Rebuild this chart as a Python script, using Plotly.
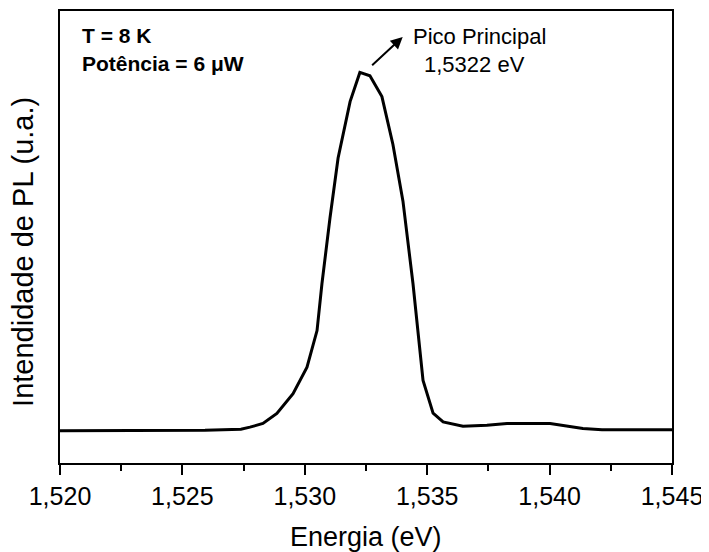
import plotly.graph_objects as go

# Data
energy_ev = [1.52000, 1.52163, 1.52368, 1.52592, 1.52739, 1.52776, 1.52829, 1.52886,
             1.52952, 1.53009, 1.53050, 1.53070, 1.53103, 1.53136, 1.53185, 1.53225,
             1.53266, 1.53315, 1.53360, 1.53401, 1.53442, 1.53483, 1.53524, 1.53565,
             1.53646, 1.53744, 1.53826, 1.54002, 1.54136, 1.54214, 1.54369, 1.54500]
pl_intensity = [71.6, 71.6, 71.6, 72.7, 74.9, 79.3, 87.4, 109.5,
                153.5, 212.1, 293.0, 396.5, 542.5, 674.7, 799.6, 864.1,
                856.8, 810.6, 704.8, 579.3, 396.5, 182.8, 110.1, 91.0,
                81.5, 83.7, 87.4, 87.4, 76.4, 73.8, 73.8, 73.8]
x_ticks = [1.520, 1.525, 1.530, 1.535, 1.540, 1.545]

FONT = "Liberation Sans, Arial, sans-serif"

fig = go.Figure()
fig.add_trace(go.Scatter(x=energy_ev, y=pl_intensity, mode="lines",
                         line=dict(color="black", width=3), showlegend=False,
                         hoverinfo="skip"))

# page body adds an 8px offset, so the figure is sized/margined to compensate
fig.update_layout(
    width=701, height=544,
    margin=dict(l=52, r=37, t=1, b=89, pad=0),
    paper_bgcolor="white", plot_bgcolor="white",
    separators=",.",
    font=dict(family=FONT, color="black"),
    xaxis=dict(range=[1.520, 1.545], tickvals=x_ticks, tickformat=".3f",
               ticks="outside", ticklen=10, tickwidth=2, tickcolor="black",
               showline=True, linewidth=2, linecolor="black", mirror=True,
               showgrid=False, zeroline=False,
               tickfont=dict(size=25, family=FONT, color="black"),
               minor=dict(dtick=0.0025, ticks="outside", ticklen=6,
                          tickwidth=2, tickcolor="black", showgrid=False)),
    yaxis=dict(range=[0, 1000], showticklabels=False, ticks="",
               showline=True, linewidth=2, linecolor="black", mirror=True,
               showgrid=False, zeroline=False),
)

fig.add_annotation(text="Energia (eV)", xref="paper", yref="paper",
                   x=0.5, y=-0.163, xanchor="center", yanchor="middle",
                   showarrow=False, font=dict(size=27, family=FONT, color="black"))
fig.add_annotation(text="Intendidade de PL (u.a.)", xref="paper", yref="paper",
                   x=0, xshift=-37, y=0.467, xanchor="center", yanchor="middle",
                   textangle=-90, showarrow=False,
                   font=dict(size=29, family=FONT, color="black"))

fig.add_annotation(text="<b>T = 8 K</b>", xref="paper", yref="paper",
                   x=0.0327, y=0.9449, xanchor="left", yanchor="middle",
                   showarrow=False, font=dict(size=21, family=FONT, color="black"))
fig.add_annotation(text="<b>Potência = 6 μW</b>", xref="paper", yref="paper",
                   x=0.0327, y=0.8833, xanchor="left", yanchor="middle",
                   showarrow=False, font=dict(size=21, family=FONT, color="black"))

fig.add_annotation(text="Pico Principal", xref="paper", yref="paper",
                   x=0.5735, y=0.9427, xanchor="left", yanchor="middle",
                   showarrow=False, font=dict(size=22, family=FONT, color="black"))
fig.add_annotation(text="1,5322 eV", xref="paper", yref="paper",
                   x=0.6765, y=0.8811, xanchor="center", yanchor="middle",
                   showarrow=False, font=dict(size=22, family=FONT, color="black"))

# arrow from the peak towards the label
fig.add_annotation(text="", x=1.53400, y=942.7, xref="x", yref="y",
                   ax=1.53269, ay=876.7, axref="x", ayref="y",
                   showarrow=True, arrowhead=2, arrowsize=1.2, arrowwidth=2,
                   arrowcolor="black")

fig.write_html("out.html")
